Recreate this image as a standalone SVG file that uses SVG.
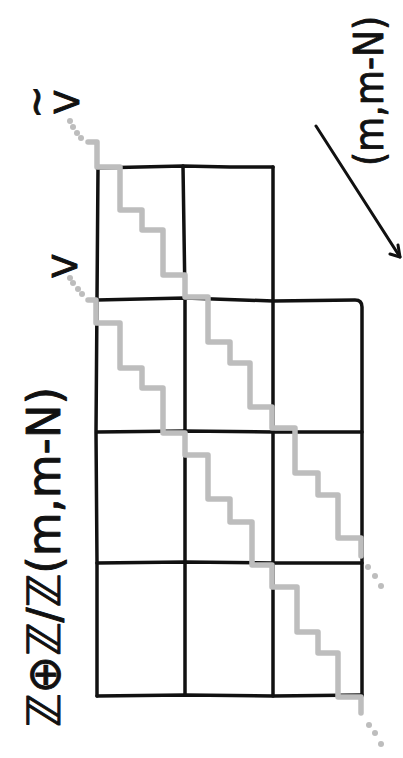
<svg xmlns="http://www.w3.org/2000/svg" width="403" height="758" viewBox="0 0 403 758">
  <style>
    .grid { fill: none; stroke: #111; stroke-width: 3.5; stroke-linecap: round; stroke-linejoin: round; }
    .stair { fill: none; stroke: #bdbdbd; stroke-width: 5.5; stroke-linecap: round; stroke-linejoin: round; }
    .dot { fill: #bdbdbd; }
    .lbl { font-family: "DejaVu Sans", "Liberation Sans", sans-serif; fill: #111; stroke: #111; stroke-width: 0.9; stroke-linejoin: round; }
    .arrow { fill: none; stroke: #111; stroke-width: 3; stroke-linecap: round; stroke-linejoin: round; }
  </style>
  <rect width="403" height="758" fill="#fff"/>

  <g id="grid">
    <path class="grid" d="M97 168 L140 167 L183 166 L230 167 L273 167"/>
    <path class="grid" d="M97 300 L185 298 L273 301 L355 300 Q362 300 362 307 L362 696"/>
    <path class="grid" d="M97 432 L185 431 L273 432 L362 432"/>
    <path class="grid" d="M97 563 L185 562 L273 563 L362 563"/>
    <path class="grid" d="M97 696 L185 695 L273 696 L362 695"/>
    <path class="grid" d="M98 168 L97 300 L96 432 L97 563 L97 696"/>
    <path class="grid" d="M183 166 L185 298 L185 432 L185 563 L185 695"/>
    <path class="grid" d="M273 167 L273 300 L273 432 L273 563 L273 696"/>
  </g>

  <g id="staircases">
    <path class="stair" d="M88 142 L97 142 L97 167 L120 167 L120 210 L142 210 L142 230 L163 230 L163 275 L185 275 L185 297 L208 297 L208 342 L230 342 L230 363 L250 363 L250 407 L272 407 L272 428 L295 428 L295 473 L318 473 L318 495 L338 495 L338 538 L361 538 L361 556"/>
    <path class="stair" d="M88 300 L96 300 L96 323 L120 323 L120 368 L142 368 L142 388 L163 388 L163 433 L185 433 L185 455 L208 455 L208 499 L230 499 L230 522 L252 522 L252 565 L272 565 L272 587 L297 587 L297 632 L318 632 L318 653 L338 653 L338 697 L361 697 L361 713"/>
    <circle class="dot" cx="70" cy="121" r="3"/>
    <circle class="dot" cx="73" cy="127" r="3"/>
    <circle class="dot" cx="77" cy="133" r="3"/>
    <circle class="dot" cx="81" cy="138" r="3"/>
    <circle class="dot" cx="70" cy="278" r="3"/>
    <circle class="dot" cx="73" cy="283" r="3"/>
    <circle class="dot" cx="78" cy="289" r="3"/>
    <circle class="dot" cx="82" cy="294" r="3"/>
    <circle class="dot" cx="368" cy="567" r="3"/>
    <circle class="dot" cx="375" cy="576" r="3"/>
    <circle class="dot" cx="381" cy="586" r="3"/>
    <circle class="dot" cx="369" cy="725" r="3"/>
    <circle class="dot" cx="375" cy="733" r="3"/>
    <circle class="dot" cx="381" cy="744" r="3"/>
  </g>

  <g id="arrow">
    <path class="arrow" d="M316 126 L400 257"/>
    <path class="arrow" d="M390 254 L400 257 L398 245"/>
  </g>

  <g id="labels">
    <text class="lbl" transform="translate(60,557) rotate(-90)" text-anchor="middle" font-size="46" textLength="340" lengthAdjust="spacingAndGlyphs">ℤ⊕ℤ/ℤ(m,m-N)</text>
    <text class="lbl" transform="translate(383,91) rotate(-90)" text-anchor="middle" font-size="40" textLength="150" lengthAdjust="spacingAndGlyphs">(m,m-N)</text>
    <text class="lbl" transform="translate(77,266) rotate(-90)" text-anchor="middle" font-size="34">V</text>
    <text class="lbl" transform="translate(79,102) rotate(-90)" text-anchor="middle" font-size="34">V</text>
    <text class="lbl" transform="translate(50,102) rotate(-90)" text-anchor="middle" font-size="40">~</text>
  </g>
</svg>
